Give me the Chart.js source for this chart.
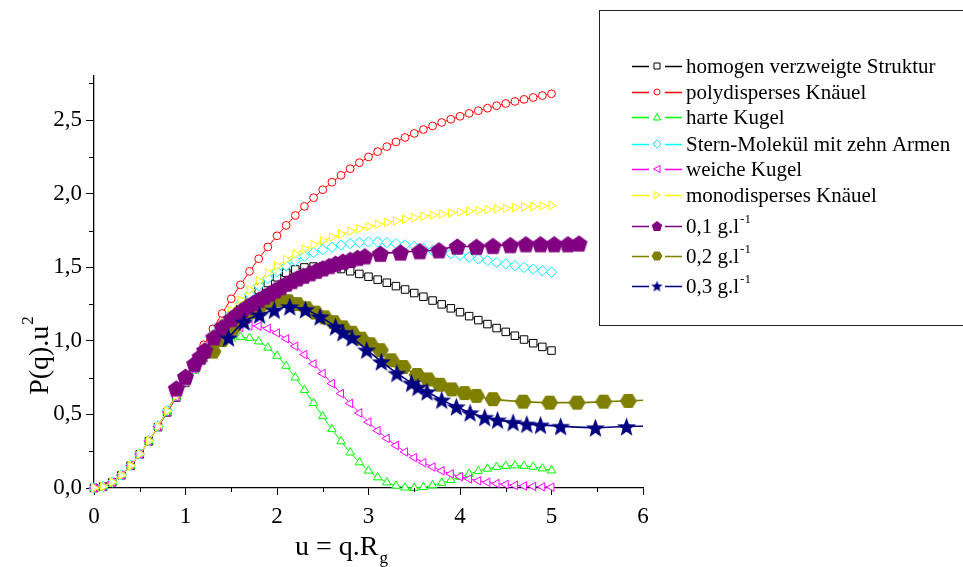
<!DOCTYPE html>
<html><head><meta charset="utf-8">
<script src="https://cdn.jsdelivr.net/npm/chart.js@4/dist/chart.umd.min.js"></script>
<style>html,body{margin:0;padding:0;background:#fff;}#wrap{width:963px;height:567px;position:relative;overflow:hidden;}</style>
</head><body><div id="wrap"><canvas id="c" width="963" height="567"></canvas></div>
<script>
// ---------- DATA ----------
const uTheory = [0.0,0.1,0.2,0.3,0.4,0.5,0.6,0.7,0.8,0.9,1.0,1.1,1.2,1.3,1.4,1.5,1.6,1.7,1.8,1.9,2.0,2.1,2.2,2.3,2.4,2.5,2.6,2.7,2.8,2.9,3.0,3.1,3.2,3.3,3.4,3.5,3.6,3.7,3.8,3.9,4.0,4.1,4.2,4.3,4.4,4.5,4.6,4.7,4.8,4.9,5.0];
const homogenVerzweigt = [0,0.010,0.039,0.087,0.151,0.229,0.318,0.414,0.514,0.615,0.714,0.812,0.906,0.995,1.078,1.155,1.225,1.289,1.345,1.393,1.432,1.463,1.485,1.499,1.505,1.505,1.499,1.488,1.473,1.455,1.436,1.416,1.395,1.372,1.349,1.325,1.300,1.274,1.248,1.221,1.195,1.168,1.141,1.114,1.087,1.061,1.035,1.009,0.984,0.959,0.934];
const polydispersKnaeuel = [0,0.010,0.039,0.087,0.152,0.231,0.321,0.421,0.527,0.638,0.750,0.862,0.973,1.081,1.186,1.286,1.381,1.472,1.558,1.638,1.714,1.785,1.852,1.914,1.973,2.027,2.078,2.125,2.170,2.211,2.250,2.286,2.320,2.352,2.382,2.410,2.436,2.461,2.484,2.506,2.526,2.546,2.564,2.581,2.598,2.613,2.627,2.641,2.654,2.667,2.679];
const harteKugel = [0,0.010,0.039,0.087,0.152,0.230,0.319,0.415,0.515,0.615,0.711,0.798,0.875,0.939,0.986,1.016,1.027,1.020,0.996,0.954,0.898,0.830,0.751,0.666,0.577,0.487,0.400,0.317,0.241,0.174,0.118,0.072,0.038,0.015,0.003,0.000,0.006,0.018,0.035,0.054,0.076,0.096,0.115,0.131,0.143,0.150,0.153,0.150,0.144,0.133,0.119];
const sternMolekuel = [0,0.010,0.040,0.088,0.152,0.231,0.321,0.420,0.525,0.632,0.737,0.840,0.940,1.030,1.110,1.186,1.255,1.318,1.375,1.425,1.470,1.510,1.545,1.575,1.600,1.620,1.637,1.651,1.661,1.668,1.672,1.672,1.668,1.661,1.652,1.642,1.628,1.614,1.603,1.593,1.582,1.569,1.557,1.545,1.534,1.523,1.511,1.499,1.488,1.477,1.467];
const weicheKugel = [0,0.010,0.039,0.087,0.152,0.230,0.319,0.416,0.517,0.618,0.717,0.808,0.891,0.962,1.020,1.063,1.091,1.103,1.100,1.084,1.054,1.014,0.964,0.907,0.844,0.778,0.710,0.642,0.575,0.510,0.448,0.390,0.337,0.289,0.245,0.207,0.172,0.143,0.117,0.096,0.077,0.062,0.049,0.039,0.030,0.024,0.018,0.014,0.011,0.008,0.006];
const monodispersKnaeuel = [0,0.010,0.039,0.087,0.152,0.230,0.320,0.419,0.523,0.629,0.736,0.840,0.940,1.035,1.123,1.205,1.279,1.346,1.407,1.461,1.509,1.552,1.590,1.624,1.654,1.681,1.705,1.726,1.745,1.762,1.778,1.792,1.805,1.816,1.827,1.837,1.846,1.854,1.862,1.869,1.875,1.881,1.887,1.892,1.897,1.901,1.906,1.910,1.913,1.917,1.920];

// measured series (last entry of 0,2 and 0,3 = end of fitted line, no marker)
const u01 = [0.90,1.00,1.10,1.16,1.21,1.31,1.40,1.50,1.56,1.62,1.68,1.74,1.80,1.86,1.92,1.98,2.04,2.10,2.16,2.22,2.29,2.36,2.43,2.50,2.57,2.64,2.72,2.80,2.88,2.96,3.13,3.35,3.56,3.77,3.97,4.18,4.36,4.55,4.72,4.88,5.03,5.18,5.30];
const p01 = [0.678,0.757,0.845,0.893,0.937,1.025,1.095,1.150,1.180,1.210,1.235,1.258,1.280,1.302,1.323,1.345,1.367,1.390,1.408,1.426,1.444,1.461,1.478,1.494,1.510,1.525,1.540,1.552,1.565,1.576,1.593,1.602,1.611,1.617,1.642,1.640,1.646,1.652,1.658,1.658,1.658,1.658,1.663];
const u02 = [1.30,1.40,1.52,1.62,1.72,1.82,1.92,2.02,2.12,2.22,2.32,2.42,2.52,2.62,2.72,2.82,2.92,3.02,3.13,3.25,3.38,3.53,3.65,3.78,3.91,4.05,4.18,4.36,4.69,4.98,5.28,5.57,5.84,6.00];
const p02 = [0.927,1.005,1.085,1.145,1.195,1.237,1.265,1.278,1.270,1.250,1.222,1.192,1.160,1.127,1.092,1.055,1.015,0.977,0.937,0.868,0.822,0.768,0.738,0.702,0.670,0.645,0.626,0.604,0.587,0.580,0.580,0.587,0.592,0.596];
const u03 = [1.47,1.64,1.81,1.97,2.14,2.31,2.47,2.64,2.72,2.82,2.98,3.14,3.31,3.47,3.54,3.64,3.80,3.96,4.11,4.27,4.41,4.58,4.73,4.88,5.10,5.48,5.82,6.00];
const p03 = [1.022,1.130,1.177,1.210,1.233,1.213,1.165,1.097,1.058,1.022,0.939,0.859,0.781,0.714,0.686,0.655,0.599,0.553,0.512,0.481,0.463,0.447,0.435,0.429,0.420,0.410,0.418,0.420];

const seriesNames = ['homogen verzweigte Struktur','polydisperses Knäuel','harte Kugel','Stern-Molekül mit zehn Armen','weiche Kugel','monodisperses Knäuel','0,1 g.l','0,2 g.l','0,3 g.l'];
const seriesSup = ['','','','','','','-1','-1','-1'];
const xTickValues = [0,1,2,3,4,5,6];
const yTickValues = [0,0.5,1.0,1.5,2.0,2.5];
const xMinorValues = [0.5,1.5,2.5,3.5,4.5,5.5];
const yMinorValues = [0.25,0.75,1.25,1.75,2.25,2.75];
const xTitle = 'u = q.R', xTitleSub = 'g';
const yTitle = 'P(q).u', yTitleSup = '2';

// ---------- STYLE ----------
const FONT = "'Liberation Serif','Times New Roman',serif";
const colors = ['#000000','#ff0000','#00ff00','#00ffff','#ff00ff','#ffff00','#800080','#808000','#000080'];

function polyCanvas(kind, color, size){
  const c = document.createElement('canvas');
  c.width = size; c.height = size;
  const g = c.getContext('2d');
  const cx = size/2, cy = size/2, r = size/2 - 0.5;
  g.fillStyle = color;
  g.beginPath();
  if (kind === 'pentagon') {
    for (let k=0;k<5;k++){ const a = -Math.PI/2 + k*2*Math.PI/5; const px=cx+r*Math.cos(a), py=cy+r*Math.sin(a)+size*0.05; k?g.lineTo(px,py):g.moveTo(px,py); }
  } else if (kind === 'hexagon') {
    for (let k=0;k<6;k++){ const a = k*Math.PI/3; const px=cx+r*Math.cos(a), py=cy+r*0.95*Math.sin(a); k?g.lineTo(px,py):g.moveTo(px,py); }
  } else {
    for (let k=0;k<10;k++){ const a = -Math.PI/2 + k*Math.PI/5; const rr = k%2? r*0.42 : r; const px=cx+rr*Math.cos(a), py=cy+rr*Math.sin(a)+size*0.05; k?g.lineTo(px,py):g.moveTo(px,py); }
  }
  g.closePath(); g.fill();
  return c;
}
const pentaBig = polyCanvas('pentagon', colors[6], 19);
const hexaBig = polyCanvas('hexagon', colors[7], 18);
const starBig = polyCanvas('star', colors[8], 21);
const pentaSmall = polyCanvas('pentagon', colors[6], 12);
const hexaSmall = polyCanvas('hexagon', colors[7], 12);
const starSmall = polyCanvas('star', colors[8], 13);

const theoryStyles = [
  {style:'rect', radius:5.3, rot:0},
  {style:'circle', radius:3.9, rot:0},
  {style:'triangle', radius:4.9, rot:0},
  {style:'rectRot', radius:5.2, rot:0},
  {style:'triangle', radius:4.9, rot:-90},
  {style:'triangle', radius:4.9, rot:90}
];
const theorySeries = [homogenVerzweigt, polydispersKnaeuel, harteKugel, sternMolekuel, weicheKugel, monodispersKnaeuel];

const datasets = [];
theorySeries.forEach((arr,i)=>{
  datasets.push({
    label: seriesNames[i],
    data: uTheory.map((u,k)=>({x:u, y:arr[k]})),
    showLine:true, borderColor:colors[i], borderWidth:1, tension:0,
    pointStyle: theoryStyles[i].style, pointRadius: theoryStyles[i].radius,
    pointRotation: theoryStyles[i].rot,
    pointBorderColor: colors[i], pointBackgroundColor:'#ffffff', pointBorderWidth:1,
    clip:false, order: 10 - i
  });
});
function expSet(i, us, ps, img, order){
  return {
    label: seriesNames[i],
    data: us.map((u,k)=>({x:u, y:ps[k]})),
    showLine:true, borderColor:colors[i], borderWidth:1.6,
    cubicInterpolationMode:'monotone', tension:0.4,
    pointStyle: img,
    pointRadius: us.map((u,k)=> (us===u01 || k < us.length-1) ? 8 : 0),
    clip:false, order: order
  };
}
datasets.push(expSet(6, u01, p01, pentaBig, 1));
datasets.push(expSet(7, u02, p02, hexaBig, 2));
datasets.push(expSet(8, u03, p03, starBig, 0));

// ---------- DECORATION PLUGIN ----------
function drawLegendMarker(g, i, x, y){
  g.save();
  g.strokeStyle = colors[i]; g.fillStyle = '#fff'; g.lineWidth = 1;
  const s = 3;
  g.beginPath();
  if (i===0){ g.rect(x-s, y-s, 2*s, 2*s); }
  else if (i===1){ g.arc(x, y, 3, 0, Math.PI*2); }
  else if (i===2){ g.moveTo(x, y-3.5); g.lineTo(x+3.5, y+3); g.lineTo(x-3.5, y+3); g.closePath(); }
  else if (i===3){ g.moveTo(x, y-4); g.lineTo(x+4, y); g.lineTo(x, y+4); g.lineTo(x-4, y); g.closePath(); }
  else if (i===4){ g.moveTo(x-3.5, y); g.lineTo(x+3, y-3.5); g.lineTo(x+3, y+3.5); g.closePath(); }
  else if (i===5){ g.moveTo(x+3.5, y); g.lineTo(x-3, y-3.5); g.lineTo(x-3, y+3.5); g.closePath(); }
  if (i<6){ g.fill(); g.stroke(); }
  else {
    const img = i===6 ? pentaSmall : (i===7 ? hexaSmall : starSmall);
    g.drawImage(img, x-img.width/2, y-img.height/2);
  }
  g.restore();
}

const decoPlugin = {
  id:'deco',
  afterDraw(chart){
    const g = chart.ctx, xs = chart.scales.x, ys = chart.scales.y, ca = chart.chartArea;
    g.save();
    g.strokeStyle = '#000'; g.lineWidth = 1;
    xMinorValues.forEach(v=>{
      const px = Math.round(xs.getPixelForValue(v)) + 0.5;
      g.beginPath(); g.moveTo(px, ca.bottom); g.lineTo(px, ca.bottom + 4); g.stroke();
    });
    yMinorValues.forEach(v=>{
      const py = Math.round(ys.getPixelForValue(v)) + 0.5;
      g.beginPath(); g.moveTo(ca.left, py); g.lineTo(ca.left - 5, py); g.stroke();
    });
    // axis titles
    g.fillStyle = '#000';
    g.textBaseline = 'alphabetic';
    g.font = '28px ' + FONT;
    const wx = g.measureText(xTitle).width;
    g.font = '17px ' + FONT;
    const wsub = g.measureText(xTitleSub).width;
    const xStart = 341 - (wx + wsub)/2;
    g.font = '28px ' + FONT; g.textAlign = 'left';
    g.fillText(xTitle, xStart, 555);
    g.font = '17px ' + FONT;
    g.fillText(xTitleSub, xStart + wx + 1, 563);

    g.save();
    g.translate(48, 356);
    g.rotate(-Math.PI/2);
    g.font = '28px ' + FONT;
    const wy = g.measureText(yTitle).width;
    g.font = '17px ' + FONT;
    const wsup = g.measureText(yTitleSup).width;
    const ys0 = -(wy + wsup)/2;
    g.font = '28px ' + FONT;
    g.fillText(yTitle, ys0, 0);
    g.font = '17px ' + FONT;
    g.fillText(yTitleSup, ys0 + wy + 1, -15);
    g.restore();

    // legend box
    g.fillStyle = '#fff';
    g.fillRect(600, 10, 400, 316);
    g.strokeStyle = '#222'; g.lineWidth = 1;
    g.strokeRect(599.5, 10.5, 420, 315);
    const rowY = [66, 92, 117, 144, 169, 195, 226, 256, 286];
    seriesNames.forEach((name, i)=>{
      const y = rowY[i];
      g.strokeStyle = colors[i]; g.lineWidth = 1.6;
      g.beginPath(); g.moveTo(632, y+0.5); g.lineTo(649, y+0.5); g.moveTo(665, y+0.5); g.lineTo(682, y+0.5); g.stroke();
      drawLegendMarker(g, i, 657, y);
      g.fillStyle = '#000';
      g.font = '21px ' + FONT; g.textAlign = 'left'; g.textBaseline = 'alphabetic';
      g.fillText(name, 686, y + 7);
      if (seriesSup[i]) {
        const w = g.measureText(name).width;
        g.font = '13px ' + FONT;
        g.fillText(seriesSup[i], 686 + w + 1, y - 3);
      }
    });
    g.restore();
  }
};

// ---------- CHART ----------
Chart.defaults.font.family = FONT;
Chart.defaults.color = '#000';
new Chart(document.getElementById('c'), {
  type: 'scatter',
  data: { datasets },
  options: {
    responsive:false, animation:false, devicePixelRatio:1,
    layout:{ padding:{ left:0, top:76, right:320, bottom:0 } },
    plugins:{ legend:{display:false}, tooltip:{enabled:false} },
    scales:{
      x:{
        type:'linear', min:0, max:6,
        afterFit(s){ s.height = 79; },
        afterBuildTicks(s){ s.ticks = xTickValues.map(v=>({value:v})); },
        ticks:{ font:{size:23, family:FONT}, color:'#000', padding:8, maxRotation:0,
          callback:(v)=> String(v) },
        grid:{ drawOnChartArea:false, tickLength:7, color:'#000', tickWidth:1 },
        border:{ display:true, color:'#000', width:1.3 }
      },
      y:{
        type:'linear', min:0, max:2.8,
        afterFit(s){ s.width = 94; },
        afterBuildTicks(s){ s.ticks = yTickValues.map(v=>({value:v})); },
        ticks:{ font:{size:23, family:FONT}, color:'#000', padding:4,
          callback:(v)=> Number(v).toFixed(1).replace('.', ',') },
        grid:{ drawOnChartArea:false, tickLength:8, color:'#000', tickWidth:1 },
        border:{ display:true, color:'#000', width:1.3 }
      }
    }
  },
  plugins:[decoPlugin]
});
</script>
</body></html>
